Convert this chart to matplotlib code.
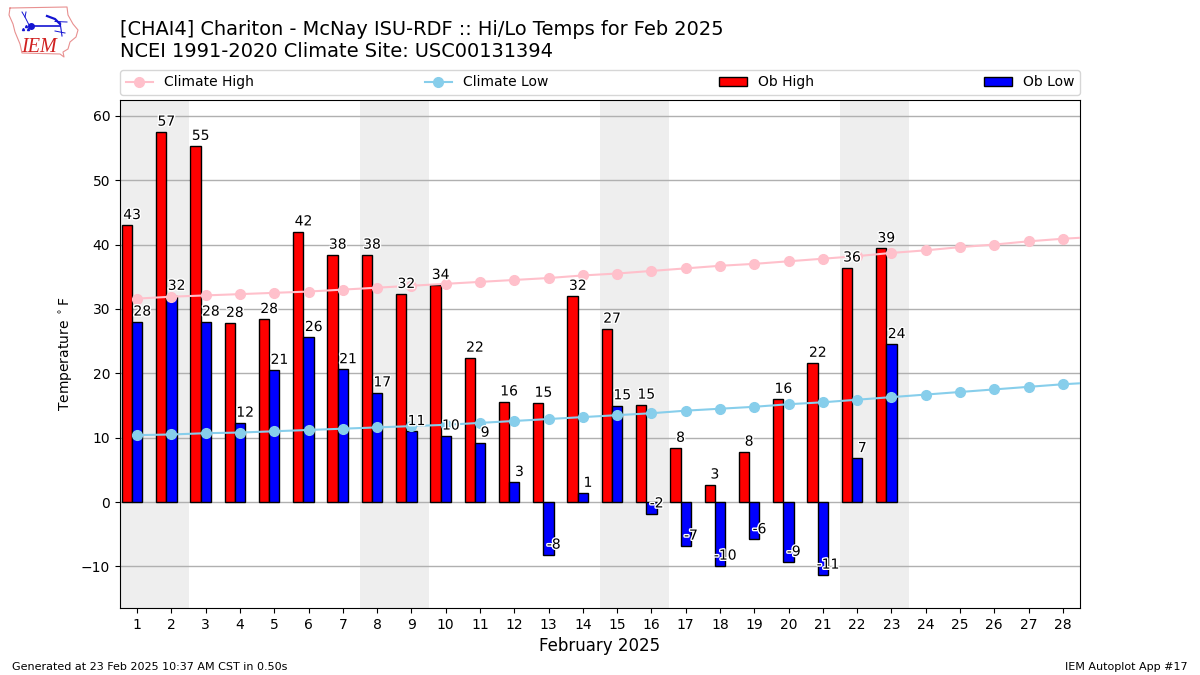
import numpy as np
import matplotlib
matplotlib.use('Agg')
import matplotlib.pyplot as plt
import matplotlib.patheffects as PathEffects

ob_high = [43, 57.5, 55.3, 27.8, 28.4, 42, 38.4, 38.4, 32.3, 33.7, 22.4, 15.6, 15.4, 32,
           26.9, 15.1, 8.4, 2.7, 7.8, 16, 21.6, 36.4, 39.4]
ob_low = [28, 32, 28, 12.3, 20.5, 25.6, 20.6, 17, 11, 10.3, 9.2, 3.1, -8.2, 1.4,
          15, -1.8, -6.8, -9.9, -5.8, -9.3, -11.3, 6.8, 24.5]
high_labels = [43, 57, 55, 28, 28, 42, 38, 38, 32, 34, 22, 16, 15, 32,
               27, 15, 8, 3, 8, 16, 22, 36, 39]
low_labels = [28, 32, 28, 12, 21, 26, 21, 17, 11, 10, 9, 3, -8, 1,
              15, -2, -7, -10, -6, -9, -11, 7, 24]
climo_high = [31.6, 31.9, 32.1, 32.3, 32.5, 32.7, 33.0, 33.3, 33.6, 33.9, 34.2, 34.5, 34.8, 35.2,
              35.5, 35.9, 36.3, 36.7, 37.0, 37.4, 37.8, 38.2, 38.7, 39.1, 39.6, 40.0, 40.5, 40.9, 41.2]
climo_low = [10.4, 10.5, 10.7, 10.8, 11.0, 11.2, 11.4, 11.6, 11.8, 12.0, 12.3, 12.6, 12.9, 13.2,
             13.5, 13.8, 14.2, 14.5, 14.8, 15.2, 15.5, 15.9, 16.3, 16.7, 17.1, 17.5, 17.9, 18.3, 18.6]
weekend_starts = [1, 8, 15, 22]

days = np.arange(1, len(ob_high) + 1)
climo_days = np.arange(1, len(climo_high) + 1)

fig = plt.figure(figsize=(12, 6.75), dpi=100)
ax = fig.add_axes([120 / 1200, 1 - 608 / 675, 960 / 1200, 508 / 675])

# weekend shading
for d in weekend_starts:
    ax.axvspan(d - 0.5, d + 1.5, color='#eeeeee', zorder=0, lw=0)

ax.yaxis.grid(True, color='#b0b0b0', lw=1, zorder=1)
ax.set_axisbelow(True)

ax.bar(days - 0.3, ob_high, width=0.3, color='red', edgecolor='k', lw=1, label='Ob High', zorder=2)
ax.bar(days, ob_low, width=0.3, color='blue', edgecolor='k', lw=1, label='Ob Low', zorder=2)
ax.plot(climo_days, climo_high, color='pink', marker='o', ms=7, lw=1.5, label='Climate High', zorder=3)
ax.plot(climo_days, climo_low, color='skyblue', marker='o', ms=7, lw=1.5, label='Climate Low', zorder=3)

stroke = [PathEffects.withStroke(linewidth=2, foreground='white')]
for d, val, lab in zip(days, ob_high, high_labels):
    ax.text(d - 0.15, val + 0.5, str(lab), ha='center', va='bottom', fontsize=10,
            path_effects=stroke, zorder=4)
for d, val, lab in zip(days, ob_low, low_labels):
    ax.text(d + 0.15, val + 0.5, str(lab), ha='center', va='bottom', fontsize=10,
            path_effects=stroke, zorder=4)

ax.set_xlim(0.5, 28.5)
ax.set_ylim(-16.45, 62.45)
ax.set_xticks(np.arange(1, 29))
ax.set_yticks(np.arange(-10, 61, 10))
ax.set_xlabel('February 2025', fontsize=12)
ax.set_ylabel(r'Temperature $^\circ$F', fontsize=10)

handles, labels = ax.get_legend_handles_labels()
order = [labels.index(n) for n in ['Climate High', 'Climate Low', 'Ob High', 'Ob Low']]
ax.legend([handles[i] for i in order], [labels[i] for i in order], ncol=4, mode='expand',
          loc='lower left', bbox_to_anchor=(0, 1.01, 1, 0.05), borderaxespad=0, fontsize=10)

fig.text(120 / 1200, 1 - 35 / 675, '[CHAI4] Chariton - McNay ISU-RDF :: Hi/Lo Temps for Feb 2025',
         fontsize=13.98, va='baseline')
fig.text(120 / 1200, 1 - 57 / 675, 'NCEI 1991-2020 Climate Site: USC00131394', fontsize=13.98, va='baseline')
fig.text(12 / 1200, 1 - 670 / 675, 'Generated at 23 Feb 2025 10:37 AM CST in 0.50s', fontsize=8, va='baseline')
fig.text(1188 / 1200, 1 - 670 / 675, 'IEM Autoplot App #17', fontsize=8, ha='right', va='baseline')

# logo, pixel coordinates of the figure
logo = fig.add_axes([0, 1 - 62 / 675, 85 / 1200, 62 / 675])
logo.set_xlim(0, 85)
logo.set_ylim(62, 0)
logo.axis('off')
iowa_x = [10, 67, 68, 73, 78, 76, 70, 68, 63, 64, 60, 22, 20, 15, 13, 9, 10]
iowa_y = [8, 7, 15, 24, 30, 37, 42, 49, 52, 57, 54, 53, 44, 32, 24, 15, 8]
logo.plot(iowa_x, iowa_y, color='#e89090', lw=0.8)
blue = '#1414d2'
logo.plot([31, 60], [26, 26], color=blue, lw=1.2)
logo.plot([31], [26], 'o', color=blue, ms=4)
logo.plot([47, 55, 60], [16, 19, 24], color=blue, lw=1.6)
logo.plot([55, 67], [21.5, 22], color=blue, lw=0.7)
logo.plot([60, 62], [22, 36], color=blue, lw=0.8)
logo.plot([55, 65], [31, 33], color=blue, lw=0.7)
logo.plot([22, 25, 29], [12, 17, 25], color=blue, lw=0.7)
logo.plot([26, 25], [12, 17], color=blue, lw=0.7)
logo.plot([23, 26, 28], [29, 26, 29], '^', color=blue, ms=1.5)
logo.text(21, 52, 'IEM', color='#d02020', family='Liberation Serif', style='italic',
          fontsize=14.5, va='baseline')

fig.savefig('out.png', dpi=100)
